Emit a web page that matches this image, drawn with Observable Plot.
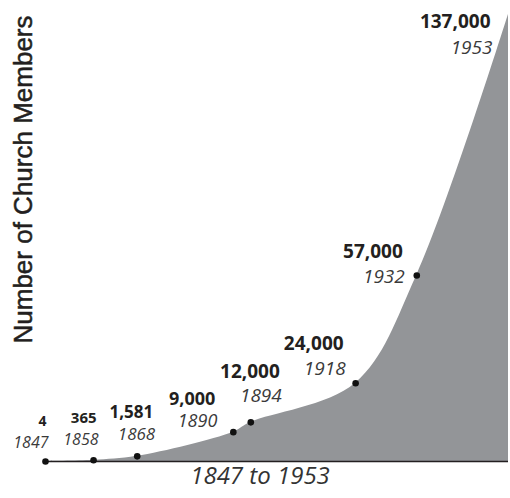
<!DOCTYPE html>
<html><head><meta charset="utf-8">
<script src="https://cdn.jsdelivr.net/npm/d3@7"></script>
<script src="https://cdn.jsdelivr.net/npm/@observablehq/plot@0.6"></script>
<style>html,body{margin:0;padding:0;background:#fff}</style>
</head><body><div id="chart"></div>
<script>
const years = [1847, 1858, 1868, 1890, 1894, 1918, 1932, 1953];
const members = [4, 365, 1581, 9000, 12000, 24000, 57000, 137000];
const xTitle = "1847 to 1953";
const yTitle = "Number of Church Members";

// annotation layout: pixel offset of each year label (right edge, baseline) from its point
const labelDx = [3, 5, 18, -16, 31, -10, -12, -16];
const labelDy = [-13, -15, -16, -5, -20, -8, 7, 39];
const valueGap = [22, 22, 22, 22, 24, 25, 25, 26];
const valueSize = [14, 15, 17, 18, 19, 19, 19, 19];
const yearSize = [16, 16, 17, 18, 19, 19, 19, 19];

const data = years.map((year, i) => ({year, members: members[i]}));
const fmt = d3.format(",");

const labelMarks = data.flatMap((d, i) => [
  Plot.text([d], {
    x: "year", y: "members", text: (v) => fmt(v.members),
    textAnchor: "end", lineAnchor: "bottom",
    dx: labelDx[i] - 2, dy: labelDy[i] - valueGap[i],
    fontSize: valueSize[i], fontWeight: "bold", fill: "#231f20"
  }),
  Plot.text([d], {
    x: "year", y: "members", text: (v) => String(v.year),
    textAnchor: "end", lineAnchor: "bottom",
    dx: labelDx[i], dy: labelDy[i],
    fontSize: yearSize[i], fontStyle: "italic", fill: "#3a3a3a"
  })
]);

const chart = Plot.plot({
  width: 510,
  height: 498,
  marginLeft: 45,
  marginRight: 2,
  marginTop: 14,
  marginBottom: 37,
  style: {fontFamily: "'Open Sans', sans-serif", background: "#fff"},
  x: {domain: [1847, 1953], axis: null},
  y: {domain: [0, 137000], axis: null},
  marks: [
    Plot.areaY(data, {x: "year", y: "members", fill: "#939598", curve: "catmull-rom"}),
    Plot.ruleY([0], {stroke: "#231f20", strokeWidth: 1.5}),
    Plot.dot(data.filter((d) => d.year < 1953), {x: "year", y: "members", r: 3.3, fill: "#111", stroke: "none"}),
    ...labelMarks,
    Plot.text([yTitle], {
      frameAnchor: "top-left", rotate: -90, textAnchor: "end", lineAnchor: "middle",
      dx: -22, dy: 1, fontSize: 26, fontFamily: "'Liberation Sans', Arial, sans-serif",
      fill: "#231f20", stroke: "#231f20", strokeWidth: 0.5
    }),
    Plot.text([xTitle], {
      frameAnchor: "bottom", dx: -17, dy: 22, fontSize: 24, fontStyle: "italic", fill: "#333"
    })
  ]
});
document.getElementById("chart").appendChild(chart);
</script>
</body></html>
